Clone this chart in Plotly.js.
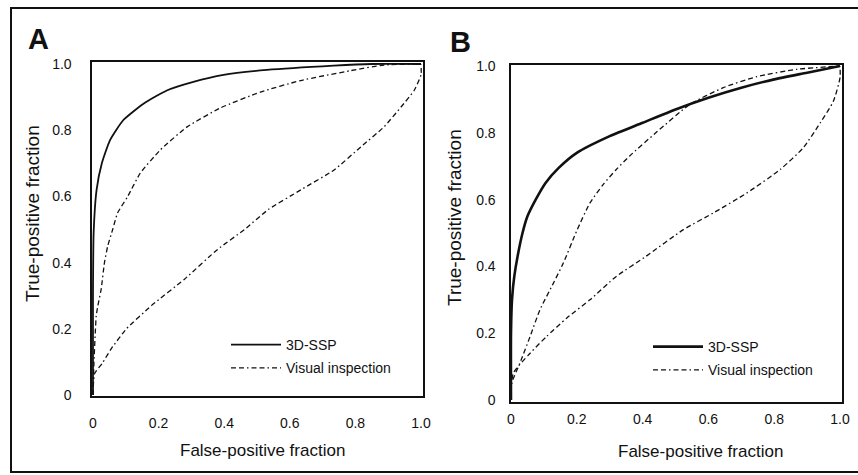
<!DOCTYPE html>
<html>
<head>
<meta charset="utf-8">
<script src="https://cdn.plot.ly/plotly-3.0.1.min.js"></script>
<style>html,body{margin:0;padding:0;background:#fff;}#chart{width:858px;height:475px;}</style>
</head>
<body>
<div id="chart"></div>
<script>
// ---- Data ----
var tickVals = [0, 0.2, 0.4, 0.6, 0.8, 1.0];
var tickText = ['0', '0.2', '0.4', '0.6', '0.8', '1.0'];

// Panel A
var aSspX = [0, 0, 0.002, 0.011, 0.027, 0.052, 0.092, 0.154, 0.225, 0.306, 0.398, 0.53, 0.734, 0.85, 1.0];
var aSspY = [0, 0.30, 0.49, 0.62, 0.70, 0.77, 0.83, 0.88, 0.92, 0.946, 0.967, 0.982, 0.995, 1.0, 1.0];
var aVis1X = [0, 0.003, 0.01, 0.015, 0.025, 0.035, 0.045, 0.06, 0.075, 0.106, 0.144, 0.205, 0.287, 0.388, 0.51, 0.633, 0.786, 0.887, 1.0];
var aVis1Y = [0, 0.10, 0.24, 0.27, 0.32, 0.40, 0.45, 0.50, 0.55, 0.60, 0.67, 0.74, 0.81, 0.867, 0.915, 0.95, 0.98, 0.997, 1.0];
var aVis2X = [0, 0.005, 0.029, 0.056, 0.102, 0.178, 0.279, 0.38, 0.462, 0.534, 0.634, 0.735, 0.817, 0.887, 0.939, 0.979, 1.0, 1.0];
var aVis2Y = [0, 0.065, 0.097, 0.14, 0.20, 0.27, 0.35, 0.44, 0.50, 0.56, 0.62, 0.68, 0.75, 0.81, 0.87, 0.92, 0.967, 1.0];

// Panel B
var bSspX = [0, 0, 0.003, 0.01, 0.02, 0.035, 0.05, 0.075, 0.105, 0.145, 0.2, 0.3, 0.4, 0.5, 0.6, 0.7, 0.8, 0.9, 1.0];
var bSspY = [0, 0.20, 0.30, 0.37, 0.43, 0.50, 0.55, 0.60, 0.65, 0.695, 0.74, 0.79, 0.83, 0.87, 0.905, 0.935, 0.96, 0.98, 1.0];
var bVis1X = [0, 0.002, 0.027, 0.058, 0.088, 0.129, 0.159, 0.2, 0.24, 0.28, 0.32, 0.36, 0.44, 0.544, 0.645, 0.747, 0.868, 1.0];
var bVis1Y = [0, 0.05, 0.11, 0.19, 0.27, 0.35, 0.41, 0.507, 0.59, 0.645, 0.69, 0.73, 0.80, 0.885, 0.935, 0.968, 0.99, 1.0];
var bVis2X = [0, 0.007, 0.058, 0.108, 0.169, 0.24, 0.32, 0.41, 0.524, 0.615, 0.717, 0.818, 0.888, 0.94, 0.98, 1.0, 1.0];
var bVis2Y = [0, 0.08, 0.14, 0.19, 0.245, 0.30, 0.37, 0.43, 0.51, 0.56, 0.62, 0.69, 0.755, 0.83, 0.895, 0.965, 1.0];

var FONT = '"Liberation Sans", Arial, Helvetica, sans-serif';
var INK = '#111';
var DASH = '5px,3px,5px,3px,1.5px,3px';
var W = 858, H = 475;
function px(v) { return v / W; }
function py(v) { return 1 - v / H; }

var traces = [
  {x: aSspX, y: aSspY, xaxis: 'x', yaxis: 'y', mode: 'lines', name: '3D-SSP', legend: 'legend', legendgroup: 'a1',
   line: {color: INK, width: 1.8, shape: 'spline', smoothing: 0.5}},
  {x: aVis1X, y: aVis1Y, xaxis: 'x', yaxis: 'y', mode: 'lines', name: 'Visual inspection', legend: 'legend', legendgroup: 'a2',
   line: {color: INK, width: 1.3, dash: DASH, shape: 'spline', smoothing: 0.5}},
  {x: aVis2X, y: aVis2Y, xaxis: 'x', yaxis: 'y', mode: 'lines', name: 'Visual inspection ', showlegend: false,
   line: {color: INK, width: 1.3, dash: DASH, shape: 'spline', smoothing: 0.5}},
  {x: bSspX, y: bSspY, xaxis: 'x2', yaxis: 'y2', mode: 'lines', name: '3D-SSP', legend: 'legend2', legendgroup: 'b1',
   line: {color: INK, width: 2.6, shape: 'spline', smoothing: 0.6}},
  {x: bVis1X, y: bVis1Y, xaxis: 'x2', yaxis: 'y2', mode: 'lines', name: 'Visual inspection', legend: 'legend2', legendgroup: 'b2',
   line: {color: INK, width: 1.3, dash: DASH, shape: 'spline', smoothing: 0.6}},
  {x: bVis2X, y: bVis2Y, xaxis: 'x2', yaxis: 'y2', mode: 'lines', name: 'Visual inspection ', showlegend: false,
   line: {color: INK, width: 1.3, dash: DASH, shape: 'spline', smoothing: 0.6}}
];

function axis(domain, range, ticklen, anchor) {
  return {
    domain: domain, range: range, anchor: anchor,
    showgrid: false, zeroline: false,
    showline: true, mirror: true, linecolor: INK, linewidth: 1.6,
    ticks: 'outside', ticklen: ticklen, tickcolor: 'rgba(0,0,0,0)',
    tickvals: tickVals, ticktext: tickText,
    tickfont: {family: FONT, size: 14, color: INK},
    fixedrange: true
  };
}

var legendBase = {
  bgcolor: 'rgba(0,0,0,0)', borderwidth: 0,
  font: {family: FONT, size: 14, color: INK},
  xanchor: 'left', yanchor: 'top', tracegroupgap: 2, traceorder: 'grouped',
  itemwidth: 50
};

var layout = {
  width: W, height: H,
  margin: {l: 0, r: 0, t: 0, b: 0},
  paper_bgcolor: '#fff', plot_bgcolor: '#fff',
  font: {family: FONT, color: INK},
  xaxis: axis([px(92), px(423)], [-0.003, 1.006], 14, 'y'),
  yaxis: axis([py(396), py(62)], [-0.003, 1.006], 16, 'x'),
  xaxis2: axis([px(511), px(842)], [0, 1.006], 4, 'y2'),
  yaxis2: axis([py(402), py(65)], [-0.006, 1.003], 11, 'x2'),
  legend: Object.assign({}, legendBase, {x: px(226), y: py(329)}),
  legend2: Object.assign({}, legendBase, {x: px(648), y: py(331)}),
  annotations: [
    {text: '<b>A</b>', x: px(38), y: py(39), xref: 'paper', yref: 'paper', showarrow: false,
     xanchor: 'center', yanchor: 'middle', font: {family: FONT, size: 29, color: INK}},
    {text: '<b>B</b>', x: px(460), y: py(42), xref: 'paper', yref: 'paper', showarrow: false,
     xanchor: 'center', yanchor: 'middle', font: {family: FONT, size: 29, color: INK}},
    {text: 'True-positive fraction', x: px(32), y: py(214), xref: 'paper', yref: 'paper', showarrow: false,
     textangle: -90, xanchor: 'center', yanchor: 'middle', font: {family: FONT, size: 19, color: INK}},
    {text: 'True-positive fraction', x: px(455), y: py(218), xref: 'paper', yref: 'paper', showarrow: false,
     textangle: -90, xanchor: 'center', yanchor: 'middle', font: {family: FONT, size: 19, color: INK}},
    {text: 'False-positive fraction', x: px(262), y: py(450), xref: 'paper', yref: 'paper', showarrow: false,
     xanchor: 'center', yanchor: 'middle', font: {family: FONT, size: 17, color: INK}},
    {text: 'False-positive fraction', x: px(700), y: py(451), xref: 'paper', yref: 'paper', showarrow: false,
     xanchor: 'center', yanchor: 'middle', font: {family: FONT, size: 17, color: INK}}
  ],
  shapes: [
    {type: 'rect', xref: 'paper', yref: 'paper', x0: px(11), x1: px(900), y0: py(472), y1: py(8),
     line: {color: INK, width: 2}, fillcolor: 'rgba(0,0,0,0)'}
  ]
};

Plotly.newPlot('chart', traces, layout, {displayModeBar: false, staticPlot: true});
</script>
</body>
</html>
